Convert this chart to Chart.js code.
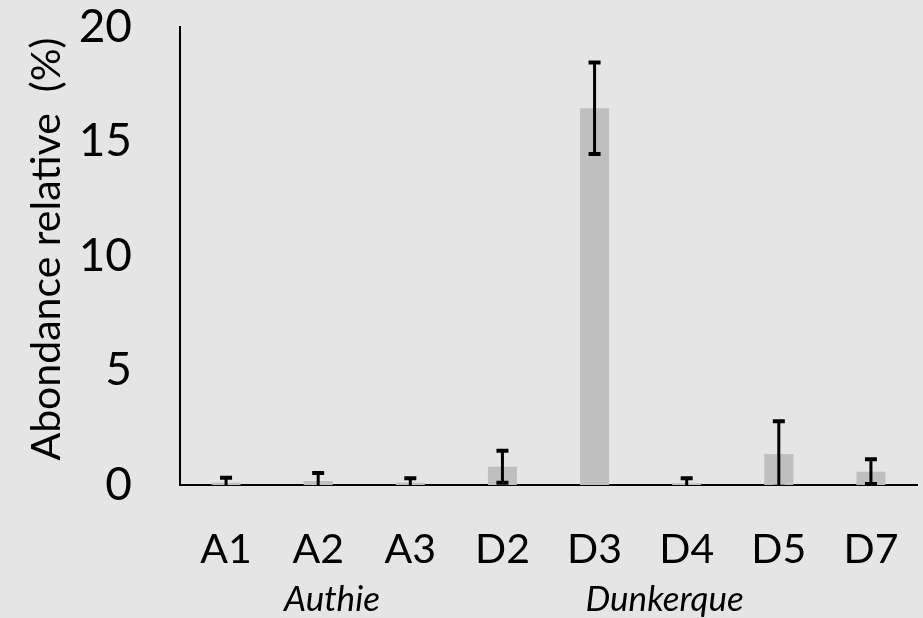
<!DOCTYPE html>
<html>
<head>
<meta charset="utf-8">
<script src="https://cdn.jsdelivr.net/npm/chart.js@4.4.1/dist/chart.umd.min.js"></script>
<style>
    html, body { margin: 0; padding: 0; background: #e5e5e5; }
    #grafico { display: block; }
</style>
</head>
<body>
<canvas id="grafico" width="923" height="618"></canvas>
<script>
// stations échantillonnées
const stations = ['A1', 'A2', 'A3', 'D2', 'D3', 'D4', 'D5', 'D7'];
// abondance relative moyenne (%)
const abondance = [0.1, 0.17, 0.1, 0.8, 16.45, 0.08, 1.35, 0.58];
// écart-type
const erreur = [0.22, 0.35, 0.2, 0.7, 2.0, 0.22, 1.43, 0.54];
const ticksY = [0, 5, 10, 15, 20];
const sites = ['Authie', 'Dunkerque'];
const titreY = 'Abondance relative  (%)';

const police = 'Lato, "Open Sans", sans-serif';

// barres d'erreur + titre de l'axe + noms des sites
const extras = {
    id: 'extras',
    afterDatasetsDraw(chart) {
        const ctx = chart.ctx;
        const x = chart.scales.x;
        const y = chart.scales.y;
        const area = chart.chartArea;

        ctx.save();
        ctx.beginPath();
        ctx.rect(area.left, area.top - 10, area.right - area.left, area.bottom - area.top + 10);
        ctx.clip();
        ctx.strokeStyle = '#000';
        for (let i = 0; i < stations.length; i++) {
            const cx = x.getPixelForValue(i);
            const haut = y.getPixelForValue(abondance[i] + erreur[i]);
            const bas = y.getPixelForValue(abondance[i] - erreur[i]);
            ctx.lineWidth = 3;
            ctx.beginPath();
            ctx.moveTo(cx, haut);
            ctx.lineTo(cx, bas);
            ctx.stroke();
            // petits traits aux extrémités
            ctx.lineWidth = 4;
            ctx.beginPath();
            ctx.moveTo(cx - 6, haut);
            ctx.lineTo(cx + 6, haut);
            ctx.moveTo(cx - 6, bas);
            ctx.lineTo(cx + 6, bas);
            ctx.stroke();
        }
        ctx.restore();

        ctx.save();
        ctx.fillStyle = '#000';
        // titre vertical
        ctx.translate(47, (area.top + area.bottom) / 2 - 7);
        ctx.rotate(-Math.PI / 2);
        ctx.font = '41px ' + police;
        ctx.textAlign = 'center';
        ctx.textBaseline = 'middle';
        ctx.fillText(titreY, 0, 0);
        ctx.restore();

        ctx.save();
        ctx.fillStyle = '#000';
        ctx.font = 'italic 35px ' + police;
        ctx.textAlign = 'center';
        ctx.textBaseline = 'alphabetic';
        ctx.fillText(sites[0], x.getPixelForValue(1.15), 611);
        ctx.fillText(sites[1], x.getPixelForValue(4.76), 611);
        ctx.restore();
    }
};

const ctx = document.getElementById('grafico').getContext('2d');
new Chart(ctx, {
    type: 'bar',
    data: {
        labels: stations,
        datasets: [{
            data: abondance,
            backgroundColor: '#bfbfbf',
            borderWidth: 0,
            barPercentage: 1,
            categoryPercentage: 0.315
        }]
    },
    options: {
        responsive: false,
        animation: false,
        layout: { padding: { top: 27, right: 6, left: 0, bottom: 0 } },
        plugins: {
            legend: { display: false },
            tooltip: { enabled: false }
        },
        scales: {
            x: {
                grid: { display: false },
                border: { color: '#000', width: 2 },
                ticks: {
                    color: '#000',
                    font: { family: police, size: 41 },
                    padding: 32
                },
                afterFit(scale) {
                    scale.height = 133;
                    scale.paddingLeft = 0;
                    scale.paddingRight = 0;
                }
            },
            y: {
                min: 0,
                max: 20,
                afterBuildTicks(scale) { scale.ticks = ticksY.map(v => ({ value: v })); },
                grid: { display: false },
                border: { color: '#000', width: 2 },
                ticks: {
                    color: '#000',
                    font: { family: police, size: 46 },
                    padding: 40
                },
                afterFit(scale) {
                    scale.width = 180;
                    scale.paddingTop = 0;
                    scale.paddingBottom = 0;
                }
            }
        }
    },
    plugins: [extras]
});
</script>
</body>
</html>
